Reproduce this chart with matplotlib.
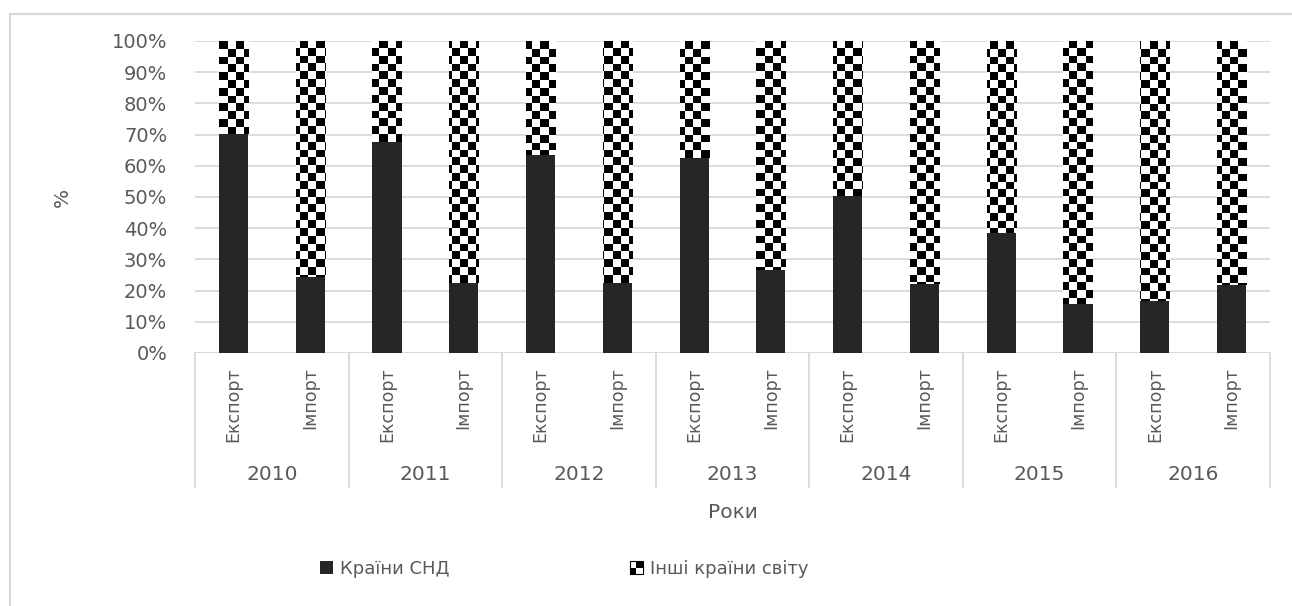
import numpy as np
import matplotlib
matplotlib.use('Agg')
import matplotlib.pyplot as plt
import matplotlib.transforms as mtransforms
from matplotlib.patches import Rectangle
from matplotlib.legend_handler import HandlerBase

years = ['2010', '2011', '2012', '2013', '2014', '2015', '2016']
flows = ['Експорт', 'Імпорт']
# share of CIS countries, % (export, import per year)
cis_export = [70.2, 67.5, 63.5, 62.5, 50.3, 38.5, 16.8]
cis_import = [24.3, 22.4, 22.4, 26.5, 22.0, 15.6, 21.8]

TXT = '#595959'
GRID = '#d9d9d9'
BAR = '#262626'
plt.rcParams['font.family'] = ['DejaVu Sans']

W, H = 1292, 606
fig = plt.figure(figsize=(W / 100, H / 100), dpi=100)
ax = fig.add_axes([195 / W, 1 - 353 / H, (1270 - 195) / W, (353 - 41) / H])

cis = []
for e, i in zip(cis_export, cis_import):
    cis += [e, i]
cis = np.array(cis)
other = 100 - cis
x = np.arange(len(cis))
width = 0.38

ax.set_xlim(-0.5, len(cis) - 0.5)
ax.set_ylim(0, 100)

bars_cis = ax.bar(x, cis, width, color=BAR, zorder=3)
bars_other = ax.bar(x, other, width, bottom=cis, color='white', zorder=3)

# checkerboard fill for the "other countries" part
nx, ny = int(round(1075 / 8)), int(round(312 / 7.8))
board = (np.add.outer(np.arange(ny), np.arange(nx)) % 2).astype(float)
for b in bars_other:
    im = ax.imshow(board, cmap='gray', vmin=0, vmax=1, interpolation='nearest',
                   extent=(-0.5, len(cis) - 0.5, 0, 100), origin='lower',
                   aspect='auto', zorder=4)
    im.set_clip_path(b)

ax.set_yticks(np.arange(0, 101, 10))
ax.set_yticklabels([f'{v}%' for v in range(0, 101, 10)])
ax.yaxis.grid(True, color=GRID, lw=1.3, zorder=0)
ax.tick_params(axis='y', length=0, pad=20, labelsize=14, colors=TXT)
for s in ax.spines.values():
    s.set_visible(False)
ax.axhline(0, color=GRID, lw=1.3, zorder=2)

ax.set_xticks(x)
ax.set_xticklabels(flows * len(years), rotation=90)
ax.tick_params(axis='x', length=0, pad=10, labelsize=12.5, colors=TXT)

trans = mtransforms.blended_transform_factory(ax.transData, ax.transAxes)
low = -(487 - 353) / 312
for k in range(len(years) + 1):
    ax.plot([2 * k - 0.5] * 2, [0, low], transform=trans, color=GRID, lw=1.3,
            clip_on=False)
for k, yr in enumerate(years):
    ax.text(2 * k + 0.5, -(474 - 353) / 312, yr, transform=trans, ha='center',
            va='center', fontsize=14.5, color=TXT)

fig.text((195 + 1270) / 2 / W, 1 - 512 / H, 'Роки', ha='center', va='center',
         fontsize=14.5, color=TXT)
fig.text(62 / W, 1 - 197 / H, '%', ha='center', va='center', rotation=90,
         fontsize=14.5, color=TXT)

# chart frame
fig.patches.append(Rectangle((10 / W, -0.1), 1.2, 1 - 14 / H + 0.1,
                             transform=fig.transFigure, fill=False,
                             edgecolor=GRID, lw=1.5))


class CheckerHandler(HandlerBase):
    def create_artists(self, legend, orig_handle, xdescent, ydescent, width,
                       height, fontsize, trans):
        s = min(width, height) / 2
        x0 = xdescent + (width - 2 * s) / 2
        y0 = -ydescent + (height - 2 * s) / 2
        arts = [Rectangle((x0, y0), 2 * s, 2 * s, facecolor='white',
                          edgecolor='none', transform=trans)]
        for cx, cy in [(0, 0), (1, 1)]:
            arts.append(Rectangle((x0 + cx * s, y0 + cy * s), s, s,
                                  facecolor='black', edgecolor='none',
                                  transform=trans))
        arts.append(Rectangle((x0, y0), 2 * s, 2 * s, facecolor='none',
                              edgecolor='black', lw=0.8, transform=trans))
        return arts


h1 = Rectangle((0, 0), 1, 1, facecolor=BAR)
h2 = Rectangle((0, 0), 1, 1, facecolor='white')
leg = fig.legend([h1, h2], ['Країни СНД', 'Інші країни світу'],
                 loc='center left', bbox_to_anchor=(304 / W, 1 - 569 / H),
                 ncol=2, frameon=False, fontsize=13, handlelength=0.7,
                 handleheight=0.7, handletextpad=0.4, columnspacing=10.0,
                 handler_map={h2: CheckerHandler()})
for t in leg.get_texts():
    t.set_color(TXT)

fig.savefig('out.png', dpi=100, facecolor='white')
